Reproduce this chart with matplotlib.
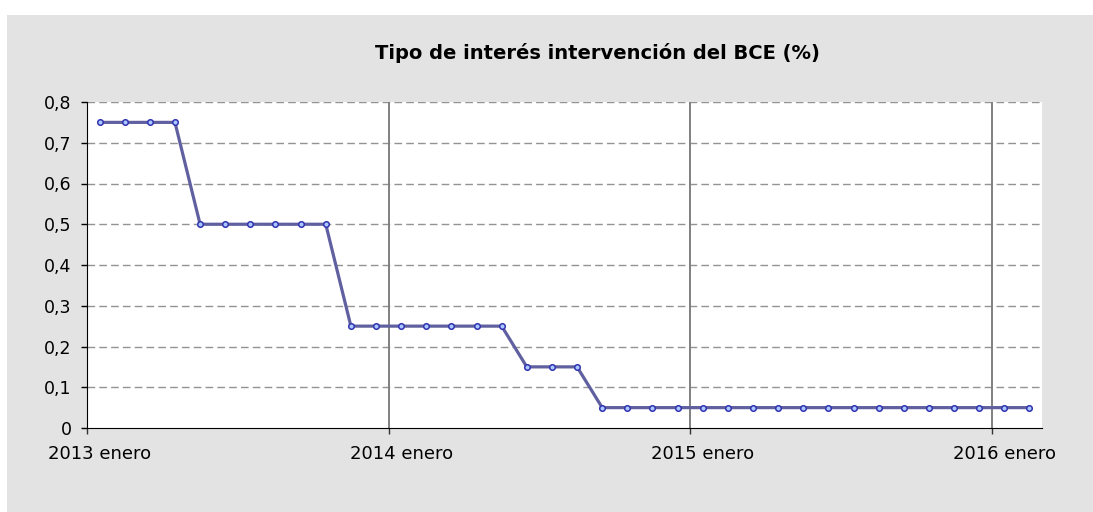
import matplotlib.pyplot as plt
import numpy as np
from matplotlib.patches import Rectangle

# monthly ECB rate, 2013 enero .. 2016 febrero
rates = [0.75, 0.75, 0.75, 0.75,
         0.5, 0.5, 0.5, 0.5, 0.5, 0.5,
         0.25, 0.25, 0.25, 0.25, 0.25, 0.25, 0.25,
         0.15, 0.15, 0.15,
         0.05, 0.05, 0.05, 0.05, 0.05, 0.05, 0.05, 0.05, 0.05,
         0.05, 0.05, 0.05, 0.05, 0.05, 0.05, 0.05, 0.05, 0.05]
year_labels = ['2013 enero', '2014 enero', '2015 enero', '2016 enero']
y_ticks = [0, 0.1, 0.2, 0.3, 0.4, 0.5, 0.6, 0.7, 0.8]
y_tick_labels = ['0', '0,1', '0,2', '0,3', '0,4', '0,5', '0,6', '0,7', '0,8']
title = 'Tipo de interés intervención del BCE (%)'


def main():
    W, H = 1093, 512
    fig = plt.figure(figsize=(W / 100, H / 100), dpi=100, facecolor='white')
    # grey chart area
    fig.patches.append(Rectangle((7 / W, 0), 1 - 7 / W, 1 - 15 / H, transform=fig.transFigure,
                                 facecolor='#e3e3e3', edgecolor='none', zorder=-10))

    ax = fig.add_axes([87 / W, 1 - 428 / H, (1042 - 87) / W, (428 - 102) / H])
    ax.set_facecolor('white')

    n = len(rates)
    x = np.arange(n) + 0.5
    ax.plot(x, rates, '-', color='#6060a0', lw=2.3, marker='o', markersize=4,
            markerfacecolor='#a8c8ff', markeredgecolor='#3333b0', markeredgewidth=1.1, zorder=3)

    ax.set_xlim(0, n)
    ax.set_ylim(0, 0.8)

    # year ticks between categories, labels centred on the first month
    year_pos = np.arange(len(year_labels)) * 12
    ax.set_xticks(year_pos)
    ax.set_xticklabels([])
    ax.set_xticks(year_pos + 0.5, minor=True)
    ax.set_xticklabels(year_labels, minor=True)
    ax.tick_params(axis='x', which='major', direction='out', length=4, width=1, color='#333333')
    ax.tick_params(axis='x', which='minor', length=0, pad=12.5, labelsize=13)

    ax.set_yticks(y_ticks)
    ax.set_yticklabels(y_tick_labels)
    ax.tick_params(axis='y', direction='out', length=4.5, width=1, pad=6.5, labelsize=12.5)

    for yv in y_ticks[1:]:
        ax.axhline(yv, color='#939393', lw=1, ls=(0, (5.5, 3)), zorder=1)
    for xv in year_pos[1:]:
        ax.axvline(xv, color='#808080', lw=1.4, zorder=1)

    for s in ['top', 'right']:
        ax.spines[s].set_visible(False)
    ax.spines['left'].set_color('black')
    ax.spines['bottom'].set_color('black')

    fig.text(597 / W, 1 - 53 / H, title, ha='center', va='center', fontsize=14,
             fontweight='bold', family='DejaVu Sans')

    fig.savefig('out.png', dpi=100, facecolor=fig.get_facecolor())


if __name__ == '__main__':
    main()
